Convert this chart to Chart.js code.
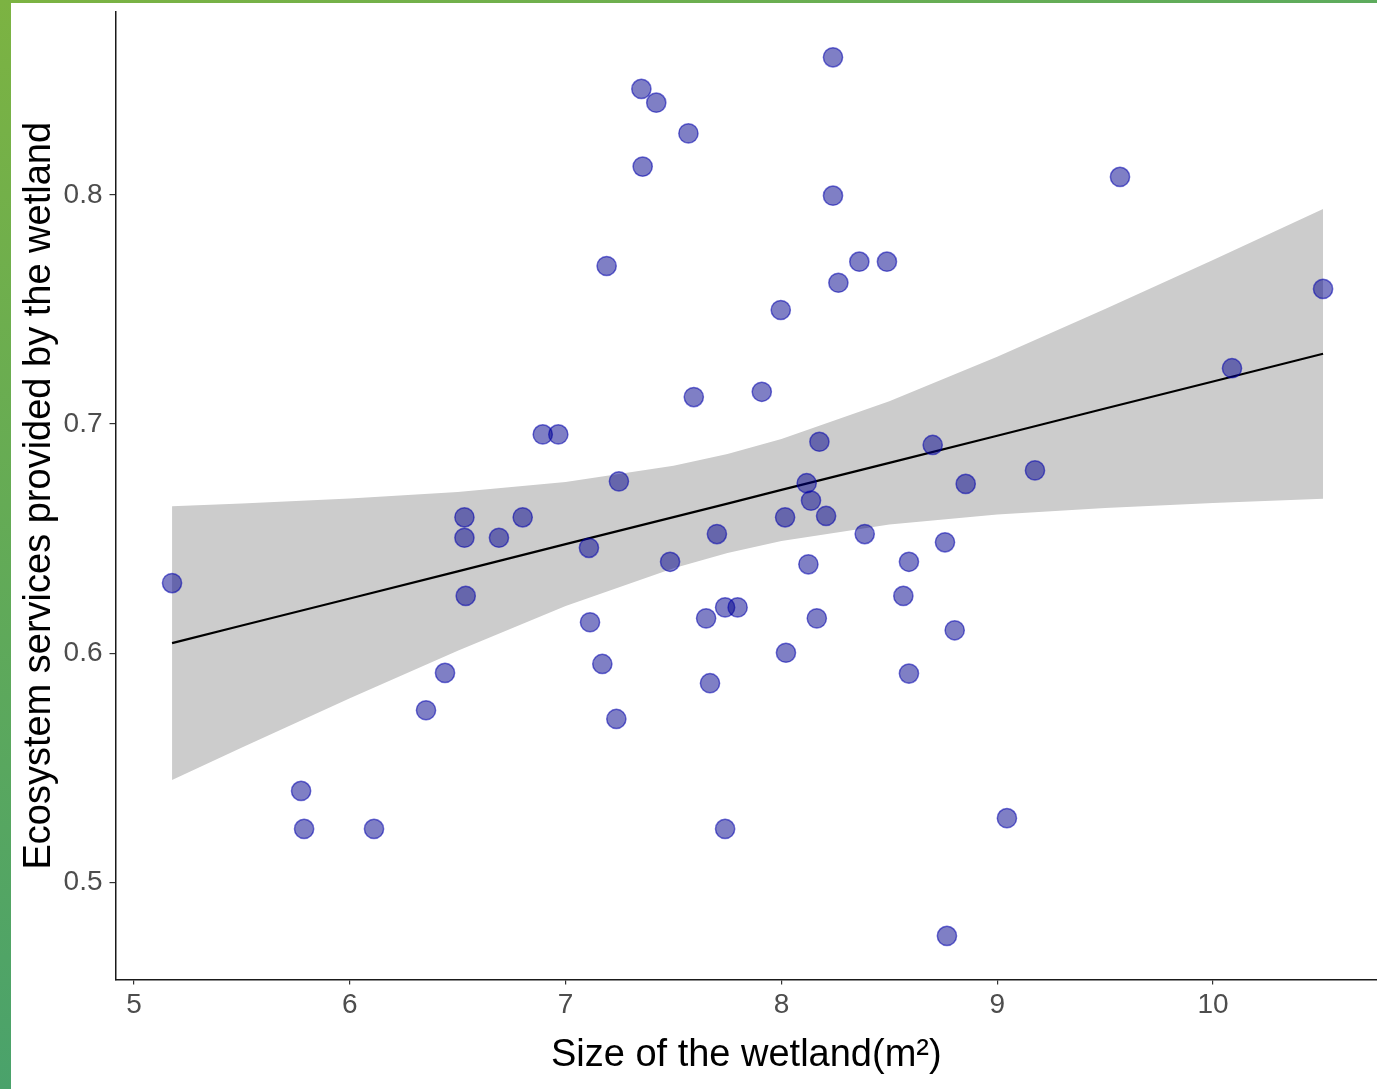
<!DOCTYPE html>
<html>
<head>
<meta charset="utf-8">
<script src="https://cdn.jsdelivr.net/npm/chart.js@4.4.1/dist/chart.umd.min.js"></script>
<style>
  html, body { margin: 0; padding: 0; background: #ffffff; overflow: hidden; }
  #wrap { position: relative; width: 1377px; height: 1089px; }
  #c { position: absolute; left: 0; top: 0; }
  #edgeLeft { position: absolute; left: 0; top: 0; width: 11px; height: 1089px;
    background: linear-gradient(to bottom, #7cb342, #4aa26b); }
  #edgeTop { position: absolute; left: 0; top: 0; width: 1377px; height: 3px;
    background: linear-gradient(to right, #7cb342, #5dab5d); }
</style>
</head>
<body>
<div id="wrap">
  <canvas id="c" width="1377" height="1089" style="width:1377px;height:1089px"></canvas>
  <div id="edgeLeft"></div>
  <div id="edgeTop"></div>
</div>
<script>
// ---- Data ----
const wetlandSize = [
  5.176, 5.774, 5.788, 6.112, 6.353, 6.441, 6.531, 6.531, 6.537, 6.691,
  6.801, 6.894, 6.966, 7.108, 7.247, 7.113, 7.170, 7.235, 7.484, 7.651,
  7.739, 7.797, 7.669, 7.701, 8.017, 8.117, 8.137, 8.207, 8.176, 8.125,
  8.164, 8.021, 8.701, 9.175, 8.854, 8.386, 8.758, 8.591, 8.565, 8.803,
  8.591, 8.239, 7.351, 7.420, 7.569, 7.357, 8.239, 7.190, 8.361, 8.489,
  8.264, 7.997, 7.909, 7.594, 9.569, 10.510, 10.088, 9.045, 8.767, 7.739
];
const ecoServices = [
  0.6306, 0.5399, 0.5233, 0.5233, 0.5751, 0.5914, 0.6593, 0.6504, 0.6250, 0.6504,
  0.6593, 0.6955, 0.6955, 0.6460, 0.6750, 0.6135, 0.5953, 0.5713, 0.6399, 0.6152,
  0.6200, 0.6200, 0.5869, 0.6520, 0.6593, 0.6742, 0.6666, 0.6599, 0.6923, 0.6388,
  0.6152, 0.6002, 0.6909, 0.6798, 0.6739, 0.6520, 0.6484, 0.6399, 0.6250, 0.6100,
  0.5911, 0.8601, 0.8463, 0.8403, 0.8269, 0.8124, 0.7997, 0.7690, 0.7709, 0.7709,
  0.7617, 0.7498, 0.7141, 0.7118, 0.8079, 0.7590, 0.7244, 0.5280, 0.4766, 0.5233
];

// Fitted line and confidence band, read at these x positions
const fitX      = [5.176, 5.5,    6.0,    6.5,    7.0,    7.5,    7.75,   8.0,    8.5,    9.0,    9.5,    10.0,   10.51];
const fitY      = [0.6044, 0.6121, 0.6239, 0.6357, 0.6476, 0.6594, 0.6653, 0.6713, 0.6831, 0.6949, 0.7068, 0.7186, 0.7307];
const bandUpper = [0.6641, 0.6653, 0.6675, 0.6704, 0.6747, 0.6818, 0.6869, 0.6935, 0.7100, 0.7294, 0.7502, 0.7716, 0.7939];
const bandLower = [0.5447, 0.5588, 0.5803, 0.6011, 0.6206, 0.6371, 0.6437, 0.6490, 0.6562, 0.6605, 0.6634, 0.6656, 0.6674];

const xTicks = [5, 6, 7, 8, 9, 10];
const yTicks = [0.5, 0.6, 0.7, 0.8];

const xTitle = 'Size of the wetland(m\u00B2)';
const yTitle = 'Ecosystem services provided by the wetland';

// ---- Build chart ----
const pts = wetlandSize.map((x, i) => ({ x: x, y: ecoServices[i] }));
const fitPts = fitX.map((x, i) => ({ x: x, y: fitY[i] }));
const upPts = fitX.map((x, i) => ({ x: x, y: bandUpper[i] }));
const loPts = fitX.map((x, i) => ({ x: x, y: bandLower[i] }));

const FONT = "'Liberation Sans', Arial, Helvetica, sans-serif";

function zeroPad(s) {
  s.paddingTop = 0; s.paddingBottom = 0; s.paddingLeft = 0; s.paddingRight = 0;
}

new Chart(document.getElementById('c'), {
  type: 'line',
  data: {
    datasets: [
      {
        type: 'scatter',
        data: pts,
        backgroundColor: 'rgba(0,0,139,0.5)',
        borderColor: 'rgba(0,0,175,0.55)',
        borderWidth: 1.5,
        pointRadius: 9.6,
        pointHoverRadius: 9.6,
        showLine: false
      },
      {
        data: fitPts,
        borderColor: '#000000',
        borderWidth: 2.2,
        pointRadius: 0,
        fill: false,
        tension: 0
      },
      {
        data: loPts,
        borderWidth: 0,
        borderColor: 'rgba(0,0,0,0)',
        pointRadius: 0,
        fill: false,
        tension: 0
      },
      {
        data: upPts,
        borderWidth: 0,
        borderColor: 'rgba(0,0,0,0)',
        backgroundColor: '#cccccc',
        pointRadius: 0,
        fill: '-1',
        tension: 0
      }
    ]
  },
  options: {
    responsive: false,
    devicePixelRatio: 1,
    animation: false,
    events: [],
    layout: { autoPadding: false, padding: { top: 12, right: 0, bottom: 0, left: 0 } },
    plugins: {
      legend: { display: false },
      tooltip: { enabled: false },
      filler: { propagate: false }
    },
    scales: {
      x: {
        type: 'linear',
        min: 4.914,
        max: 10.760,
        afterBuildTicks: (s) => { s.ticks = xTicks.map(v => ({ value: v })); },
        afterFit: (s) => { s.height = 109.5; zeroPad(s); },
        grid: { display: true, drawOnChartArea: false, drawTicks: true, tickLength: 5, color: '#333333', lineWidth: 1.2 },
        border: { display: true, color: '#1a1a1a', width: 1.5 },
        ticks: { color: '#4d4d4d', font: { family: FONT, size: 28 }, padding: 4, maxRotation: 0, autoSkip: false,
                 callback: (v) => String(v) },
        title: { display: true, text: xTitle, color: '#000000', font: { family: FONT, size: 38 }, padding: { top: 0, bottom: 11 } }
      },
      y: {
        type: 'linear',
        min: 0.45757,
        max: 0.87988,
        afterBuildTicks: (s) => { s.ticks = yTicks.map(v => ({ value: v })); },
        afterFit: (s) => { s.width = 115.5; zeroPad(s); },
        grid: { display: true, drawOnChartArea: false, drawTicks: true, tickLength: 6, color: '#333333', lineWidth: 1.2 },
        border: { display: true, color: '#1a1a1a', width: 1.5 },
        ticks: { color: '#4d4d4d', font: { family: FONT, size: 28 }, padding: 7, autoSkip: false,
                 callback: (v) => v.toFixed(1) },
        title: { display: true, text: yTitle, color: '#000000', font: { family: FONT, size: 38 }, padding: { top: 17, bottom: 0 } }
      }
    }
  }
});
</script>
</body>
</html>
